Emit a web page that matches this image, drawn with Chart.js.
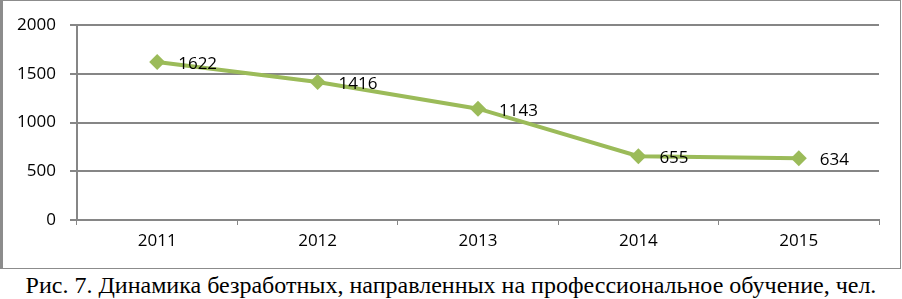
<!DOCTYPE html>
<html>
<head>
<meta charset="utf-8">
<script src="https://cdn.jsdelivr.net/npm/chart.js@4"></script>
<style>
  body { margin: 0; background: #fff; width: 902px; height: 299px; position: relative; overflow: hidden; }
  #box { position: absolute; left: 0; top: 0; width: 897px; height: 267px; border: 1px solid #8c8c8c; border-left-width: 3px; }
  #wrap { position: absolute; left: 0; top: 0; width: 897px; height: 267px; }
  #caption { position: absolute; left: 0; top: 273px; width: 902px; text-align: center; line-height: 24px;
    font-family: "Liberation Serif", "Times New Roman", serif; font-size: 24px; color: #000; white-space: nowrap; }
</style>
</head>
<body>
<div id="box"><div id="wrap"><canvas id="chart"></canvas></div></div>
<div id="caption">Рис. 7. Динамика безработных, направленных на профессиональное обучение, чел.</div>
<script>
// Данные графика
const years = ['2011', '2012', '2013', '2014', '2015'];
const valores = [1622, 1416, 1143, 655, 634];
const yTicks = [0, 500, 1000, 1500, 2000];

const fonte = { family: '"Open Sans", sans-serif', size: 17 };

// Подписи значений справа от точек
const rotulos = {
    id: 'rotulos',
    afterDatasetsDraw(chart) {
        const ctx = chart.ctx;
        const meta = chart.getDatasetMeta(0);
        ctx.save();
        ctx.font = '17px "Open Sans", sans-serif';
        ctx.fillStyle = '#000';
        ctx.textAlign = 'left';
        ctx.textBaseline = 'middle';
        meta.data.forEach((p, i) => {
            ctx.fillText(String(valores[i]), p.x + 21, p.y + 2);
        });
        ctx.restore();
    }
};

new Chart(document.getElementById('chart'), {
    type: 'line',
    data: {
        labels: years,
        datasets: [{
            data: valores,
            borderColor: '#9bbb59',
            backgroundColor: '#9bbb59',
            borderWidth: 4,
            tension: 0,
            pointStyle: 'rectRot',
            pointRadius: 8,
            pointHoverRadius: 8,
            pointBorderWidth: 0
        }]
    },
    options: {
        responsive: true,
        maintainAspectRatio: false,
        animation: false,
        events: [],
        layout: { padding: { top: 22, right: 21, left: 0, bottom: 0 } },
        plugins: { legend: { display: false }, tooltip: { enabled: false } },
        scales: {
            x: {
                offset: true,
                afterFit: (s) => { s.height = 48; },
                grid: { display: true, offset: true, drawOnChartArea: false, color: '#868686', tickLength: 5, lineWidth: 1 },
                border: { color: '#868686', width: 2 },
                ticks: { color: '#000', font: fonte, padding: 6 }
            },
            y: {
                min: 0,
                max: 2000,
                afterFit: (s) => { s.width = 74; },
                afterBuildTicks: (s) => { s.ticks = yTicks.map(v => ({ value: v })); },
                grid: { color: '#868686', lineWidth: 2, tickLength: 7 },
                border: { color: '#868686', width: 2 },
                ticks: { color: '#000', font: fonte, padding: 14, callback: (v) => String(v) }
            }
        }
    },
    plugins: [rotulos]
});
</script>
</body>
</html>
